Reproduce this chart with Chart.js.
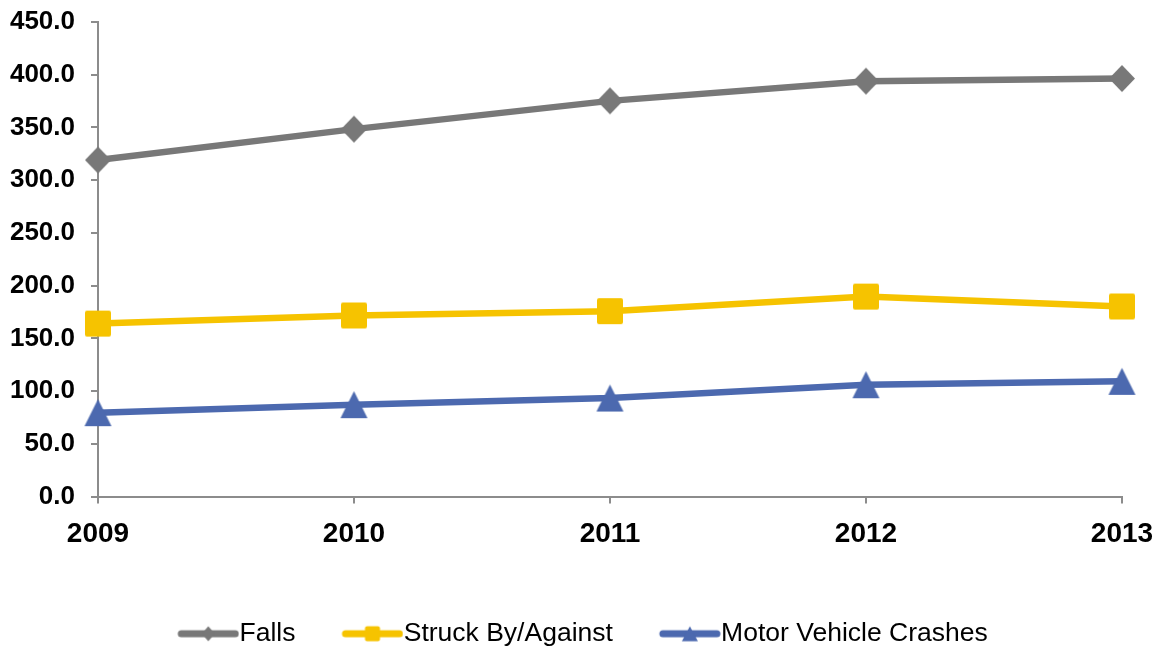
<!DOCTYPE html>
<html>
<head>
<meta charset="utf-8">
<script src="https://cdn.jsdelivr.net/npm/chart.js@4.4.1/dist/chart.umd.min.js"></script>
<style>
  html, body { margin: 0; padding: 0; background: #ffffff; }
  #wrap { width: 1163px; height: 648px; }
</style>
</head>
<body>
<div id="wrap"><canvas id="c" width="1163" height="648"></canvas></div>
<script>
// ---- Data ----
const categories = ['2009', '2010', '2011', '2012', '2013'];
const falls = [319.1, 348.4, 375.2, 393.9, 396.4];
const struckBy = [164.0, 171.7, 175.8, 189.6, 180.2];
const motorVehicle = [79.5, 87.1, 93.4, 106.0, 109.2];
const seriesNames = ['Falls', 'Struck By/Against', 'Motor Vehicle Crashes'];
const yTicks = { min: 0, max: 450, step: 50 };

// ---- Styles ----
const GRAY = '#787878';
const YELLOW = '#F6C300';
const BLUE = '#4C69AF';
const AXIS = '#8C8C8C';
const FONT = '"Liberation Sans", Arial, sans-serif';

function shapePath(ctx, shape, cx, cy, hw, hh) {
  ctx.beginPath();
  if (shape === 'diamond') {
    ctx.moveTo(cx, cy - hh);
    ctx.lineTo(cx + hw, cy);
    ctx.lineTo(cx, cy + hh);
    ctx.lineTo(cx - hw, cy);
    ctx.closePath();
  } else if (shape === 'square') {
    const r = 2;
    const x0 = cx - hw, y0 = cy - hh, x1 = cx + hw, y1 = cy + hh;
    ctx.moveTo(x0 + r, y0);
    ctx.lineTo(x1 - r, y0); ctx.quadraticCurveTo(x1, y0, x1, y0 + r);
    ctx.lineTo(x1, y1 - r); ctx.quadraticCurveTo(x1, y1, x1 - r, y1);
    ctx.lineTo(x0 + r, y1); ctx.quadraticCurveTo(x0, y1, x0, y1 - r);
    ctx.lineTo(x0, y0 + r); ctx.quadraticCurveTo(x0, y0, x0 + r, y0);
    ctx.closePath();
  } else {
    ctx.moveTo(cx, cy - hh);
    ctx.lineTo(cx + hw, cy + hh);
    ctx.lineTo(cx - hw, cy + hh);
    ctx.closePath();
  }
}

function markerImage(shape, color, hw, hh) {
  const c = document.createElement('canvas');
  c.width = Math.ceil(hw * 2 + 4);
  c.height = Math.ceil(hh * 2 + 4);
  const ctx = c.getContext('2d');
  ctx.fillStyle = color;
  shapePath(ctx, shape, c.width / 2, c.height / 2, hw, hh);
  ctx.fill();
  return c;
}

// legend swatch: line + small marker, drawn in an offset canvas
const LEG_BOX = 92;
const LEG_IMG_W = LEG_BOX + 26;
function legendImage(shape, color, hw, hh) {
  const c = document.createElement('canvas');
  c.width = LEG_IMG_W;
  c.height = 30;
  const ctx = c.getContext('2d');
  const x1 = LEG_IMG_W - 1, x0 = x1 - 60, cy = 15;
  ctx.strokeStyle = color;
  ctx.lineWidth = 7;
  ctx.lineCap = 'round';
  ctx.beginPath();
  ctx.moveTo(x0 + 3, cy);
  ctx.lineTo(x1 - 3, cy);
  ctx.stroke();
  ctx.fillStyle = color;
  shapePath(ctx, shape, (x0 + x1) / 2, cy, hw, hh);
  ctx.fill();
  return c;
}

const markers = [
  markerImage('diamond', GRAY, 13, 13.5),
  markerImage('square', YELLOW, 13, 13),
  markerImage('triangle', BLUE, 13.5, 13.5)
];
const legendMarks = [
  legendImage('diamond', GRAY, 6.5, 7.5),
  legendImage('square', YELLOW, 7.5, 7.5),
  legendImage('triangle', BLUE, 8, 7.5)
];

const seriesValues = [falls, struckBy, motorVehicle];
const colors = [GRAY, YELLOW, BLUE];

const datasets = seriesValues.map((vals, i) => ({
  label: seriesNames[i],
  data: vals,
  borderColor: colors[i],
  backgroundColor: colors[i],
  borderWidth: 6.5,
  tension: 0,
  pointStyle: markers[i],
  pointRadius: 13,
  pointHoverRadius: 13,
  clip: false
}));

new Chart(document.getElementById('c'), {
  type: 'line',
  data: { labels: categories, datasets },
  options: {
    responsive: false,
    animation: false,
    devicePixelRatio: 1,
    layout: { padding: { top: 22, right: 41, left: 0, bottom: -9 } },
    plugins: {
      tooltip: { enabled: false },
      legend: {
        position: 'bottom',
        labels: {
          usePointStyle: true,
          pointStyleWidth: LEG_BOX,
          padding: 3,
          color: '#000000',
          font: { family: FONT, size: 26.5 },
          generateLabels(chart) {
            const items = Chart.defaults.plugins.legend.labels.generateLabels(chart);
            items.forEach((it, i) => { it.pointStyle = legendMarks[i]; });
            return items;
          }
        }
      }
    },
    scales: {
      x: {
        type: 'category',
        offset: false,
        grid: { display: true, drawOnChartArea: false, drawTicks: true, tickLength: 7, color: AXIS, lineWidth: 2, offset: false },
        border: { display: true, color: AXIS, width: 2 },
        ticks: { color: '#000000', font: { family: FONT, size: 28, weight: 'bold' }, padding: 14, maxRotation: 0, autoSkip: false },
        afterFit(scale) { scale.height = 121; scale.paddingLeft = 0; scale.paddingRight = 0; }
      },
      y: {
        min: yTicks.min,
        max: yTicks.max,
        grid: { display: true, drawOnChartArea: false, drawTicks: true, tickLength: 7, color: AXIS, lineWidth: 2 },
        border: { display: true, color: AXIS, width: 2 },
        ticks: {
          stepSize: yTicks.step,
          color: '#000000',
          font: { family: FONT, size: 26, weight: 'bold' },
          padding: 16,
          callback: (v) => Number(v).toFixed(1)
        },
        afterFit(scale) { scale.width = 98; scale.paddingTop = 0; scale.paddingBottom = 0; }
      }
    }
  }
});
</script>
</body>
</html>
